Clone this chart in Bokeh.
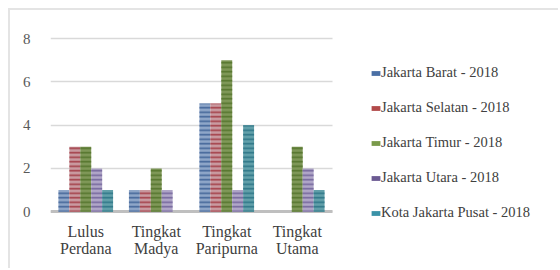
from bokeh.plotting import figure
from bokeh.models import ColumnDataSource, Legend, LegendItem, Range1d, FixedTicker, Grid
from bokeh.transform import dodge
from bokeh.embed import file_html
from bokeh.resources import INLINE

categories = ["Lulus Perdana", "Tingkat Madya", "Tingkat Paripurna", "Tingkat Utama"]
tick_labels = ["Lulus\nPerdana", "Tingkat\nMadya", "Tingkat\nParipurna", "Tingkat\nUtama"]
series = ["Jakarta Barat - 2018", "Jakarta Selatan - 2018", "Jakarta Timur - 2018",
          "Jakarta Utara - 2018", "Kota Jakarta Pusat - 2018"]
barat = [1, 1, 5, 0]
selatan = [3, 1, 5, 0]
timur = [3, 2, 7, 3]
utara = [2, 1, 1, 2]
pusat = [1, 0, 4, 1]
y_ticks = [0, 2, 4, 6, 8]

values = [barat, selatan, timur, utara, pusat]
fills = ["#8ea6c8", "#c99aa0", "#7f9858", "#b0a6c8", "#62a0aa"]
hatches = ["#36598f", "#9c2f38", "#4e6e26", "#6a5a94", "#256f80"]
legend_colors = ["#4a6fa5", "#b24a4a", "#7a9a4a", "#6b5a92", "#3a92a8"]

FONT = "serif"
ncat = len(categories)
xpos = [i + 0.5 for i in range(ncat)]

p = figure(x_range=Range1d(0, ncat * 510 / 282), y_range=Range1d(-0.5, 8.7),
           width=550, height=260, output_backend="svg", toolbar_location=None,
           min_border_left=40, min_border_right=0, min_border_top=13, min_border_bottom=48)
p.styles = {"margin-left": "8px", "margin-top": "8px",
            "border-left": "2px solid #e4e4e4", "border-top": "2px solid #e4e4e4"}
p.outline_line_color = None
p.background_fill_color = "white"
p.border_fill_color = "white"

bw = 0.155
offsets = [-2 * bw, -bw, 0, bw, 2 * bw]
src = ColumnDataSource(dict(x=xpos, **{f"s{i}": v for i, v in enumerate(values)}))
for i in range(5):
    p.vbar(x=dodge("x", offsets[i]), top=f"s{i}", width=bw, source=src,
           fill_color=fills[i], line_color=None,
           hatch_pattern="horizontal_line", hatch_color=hatches[i], hatch_scale=4.5,
           hatch_weight=1.6, hatch_alpha=0.85)

legend_renderers = []
for i in range(5):
    r = p.vbar(x=[xpos[0]], top=[0], bottom=[0], width=0.001,
               fill_color=legend_colors[i], line_color=None)
    legend_renderers.append(r)

legend = Legend(items=[LegendItem(label=series[i], renderers=[legend_renderers[i]]) for i in range(5)],
                location=(320, -1), glyph_width=11, glyph_height=6, label_height=21,
                spacing=14, padding=0, margin=0, label_standoff=0,
                label_text_font=FONT, label_text_font_size="14.5px", label_text_color="#404040",
                border_line_color=None, background_fill_alpha=0)
p.add_layout(legend)

p.xgrid.grid_line_color = None
p.ygrid.grid_line_color = "#d9d9d9"
p.ygrid.grid_line_width = 1.5
p.ygrid.cross_bounds = (0, ncat)
zero_line = Grid(dimension=1, ticker=FixedTicker(ticks=[0]), grid_line_color="#bfbfbf",
                 grid_line_width=3, cross_bounds=(0, ncat))
p.add_layout(zero_line)

p.yaxis.ticker = FixedTicker(ticks=y_ticks)
p.yaxis.axis_line_color = None
p.yaxis.major_tick_line_color = None
p.yaxis.minor_tick_line_color = None
p.yaxis.major_label_standoff = 14
p.yaxis.major_label_text_font = FONT
p.yaxis.major_label_text_font_size = "15px"
p.yaxis.major_label_text_color = "#595959"

p.xaxis.ticker = FixedTicker(ticks=xpos)
p.xaxis.major_label_overrides = {x: t for x, t in zip(xpos, tick_labels)}
p.xaxis.axis_line_color = None
p.xaxis.major_tick_line_color = None
p.xaxis.minor_tick_line_color = None
p.xaxis.major_label_standoff = -6
p.xaxis.major_label_text_font = FONT
p.xaxis.major_label_text_font_size = "16px"
p.xaxis.major_label_text_color = "#404040"
p.xaxis.major_label_text_line_height = 1.0

open("out.html", "w").write(file_html(p, INLINE))
